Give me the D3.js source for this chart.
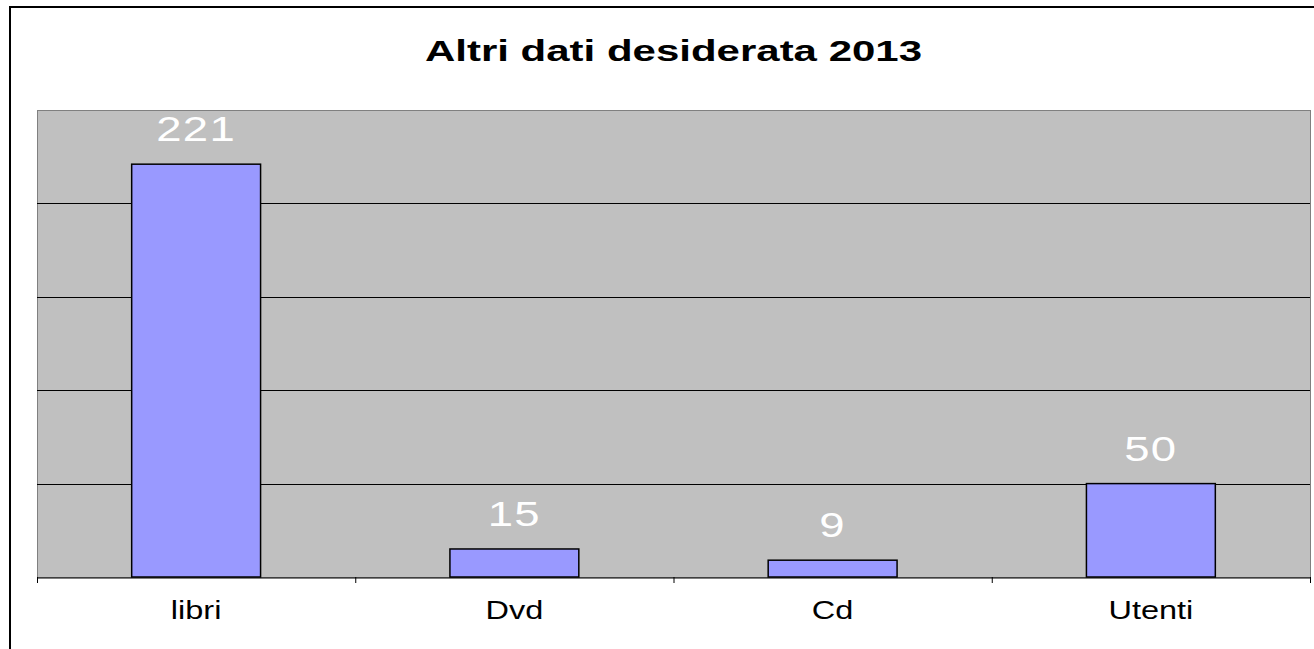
<!DOCTYPE html>
<html lang="en">
<head>
    <meta charset="UTF-8">
    <style>
        body { margin: 0; background: #fff; }
        text { font-family: "Liberation Sans", Arial, sans-serif; }
    </style>
    <script src="https://d3js.org/d3.v7.min.js"></script>
    <title>Altri dati desiderata 2013</title>
</head>
<body>
    <svg width="1314" height="649"></svg>
    <script>

        // data
        var categories = ["libri", "Dvd", "Cd", "Utenti"];
        var values = [221, 15, 9, 50];
        var yTicks = [0, 50, 100, 150, 200, 250];
        var title = "Altri dati desiderata 2013";

        var svg = d3.select("svg");

        // plot area ("top" is taken by window.top, so use other names)
        var plotLeft = 37, plotRight = 1310, plotTop = 110, plotBottom = 577;

        // outer chart border (runs off the right and bottom)
        svg.append("rect")
           .attr("x", 10).attr("y", 7)
           .attr("width", 1400).attr("height", 700)
           .attr("fill", "#fff")
           .attr("stroke", "#000")
           .attr("stroke-width", 2);

        var x = d3.scaleBand()
                  .domain(categories)
                  .range([plotLeft, plotRight])
                  .padding(0);

        var y = d3.scaleLinear()
                  .domain([0, 250])
                  .range([plotBottom, plotTop]);

        // background
        svg.append("rect")
           .attr("x", plotLeft + 0.5).attr("y", plotTop + 0.5)
           .attr("width", plotRight - plotLeft).attr("height", plotBottom - plotTop)
           .attr("fill", "#c0c0c0")
           .attr("stroke", "#808080")
           .attr("stroke-width", 1);

        // gridlines
        svg.selectAll(".grid")
           .data(yTicks.filter(function(d) { return d > 0 && d < 250; }))
           .enter().append("line")
           .attr("x1", plotLeft).attr("x2", plotRight)
           .attr("y1", function(d) { return Math.round(y(d)) + 0.5; })
           .attr("y2", function(d) { return Math.round(y(d)) + 0.5; })
           .attr("stroke", "#000")
           .attr("stroke-width", 1);

        // bars
        var barW = x.bandwidth() * 0.405;
        svg.selectAll(".bar")
           .data(values)
           .enter().append("rect")
           .attr("x", function(d, i) { return x(categories[i]) + x.bandwidth() / 2 - barW / 2; })
           .attr("y", function(d) { return y(d); })
           .attr("width", barW)
           .attr("height", function(d) { return plotBottom - y(d); })
           .attr("fill", "#9999ff")
           .attr("stroke", "#000")
           .attr("stroke-width", 1.5);

        // x axis
        var xAxis = d3.axisBottom(x).tickSize(0).tickFormat("");
        svg.append("g")
           .attr("transform", "translate(0," + (plotBottom + 0.5) + ")")
           .call(xAxis)
           .select(".domain").attr("stroke", "#000");

        // tick marks at category boundaries
        var bounds = categories.map(function(c) { return x(c); }).concat([plotRight]);
        svg.selectAll(".tick-mark")
           .data(bounds)
           .enter().append("line")
           .attr("x1", function(d) { return d + 0.5; })
           .attr("x2", function(d) { return d + 0.5; })
           .attr("y1", plotBottom).attr("y2", plotBottom + 6)
           .attr("stroke", "#000");

        // value labels (original is stretched sideways)
        svg.selectAll(".val")
           .data(values)
           .enter().append("text")
           .attr("transform", function(d, i) {
                return "translate(" + (x(categories[i]) + x.bandwidth() / 2) + "," + (y(d) - 23) + ") scale(1.3,1)";
           })
           .attr("text-anchor", "middle")
           .attr("font-size", 35)
           .attr("letter-spacing", 1)
           .attr("fill", "#fff")
           .text(function(d) { return d; });

        // category labels
        svg.selectAll(".cat")
           .data(categories)
           .enter().append("text")
           .attr("transform", function(d) {
                return "translate(" + (x(d) + x.bandwidth() / 2) + ",619) scale(1.25,1)";
           })
           .attr("text-anchor", "middle")
           .attr("font-size", 26)
           .attr("fill", "#000")
           .text(function(d) { return d; });

        // title
        svg.append("text")
           .attr("transform", "translate(" + ((plotLeft + plotRight) / 2) + ",61) scale(1.4,1)")
           .attr("text-anchor", "middle")
           .attr("font-size", 30)
           .attr("font-weight", "bold")
           .text(title);

    </script>
</body>
</html>
